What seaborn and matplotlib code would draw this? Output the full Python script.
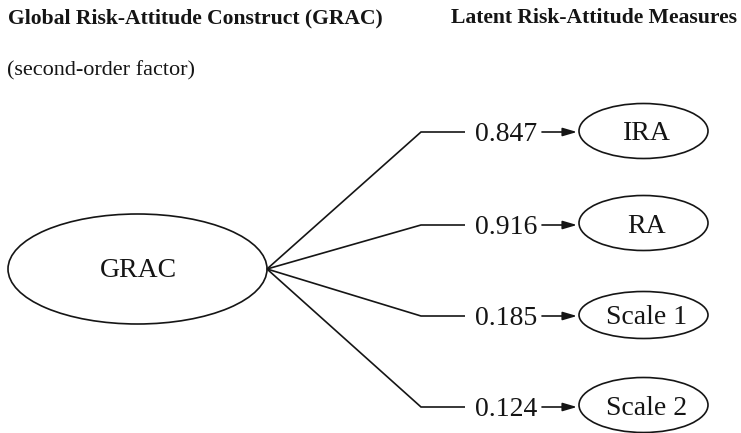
import matplotlib
matplotlib.use("Agg")
import matplotlib.pyplot as plt
from matplotlib.patches import Ellipse
import seaborn as sns

# ---- data ----
construct = "GRAC"
title_left = "Global Risk-Attitude Construct (GRAC)"
subtitle_left = "(second-order factor)"
title_right = "Latent Risk-Attitude Measures"
measures = ["IRA", "RA", "Scale 1", "Scale 2"]
loadings = [0.847, 0.916, 0.185, 0.124]

# ---- style ----
sns.set_theme(style="white")
plt.rcParams["font.family"] = ["Liberation Serif", "DejaVu Serif"]

W, H = 741, 433
fig = plt.figure(figsize=(W / 100, H / 100), dpi=100)
ax = fig.add_axes([0, 0, 1, 1])
ax.set_xlim(0, W)
ax.set_ylim(H, 0)
ax.axis("off")

ink = "#151515"
lw = 1.2

# ---- layout ----
row_y = [132, 225, 316, 407]
node_cy = [131, 223, 315, 405]
node_h = [55, 55, 47, 55]
node_cx, node_w = 643.5, 129
text_cx = 646.5
grac_cx, grac_cy, grac_w, grac_h = 137.5, 269, 259, 110
tip_x = grac_cx + grac_w / 2
bend_x, seg_end, num_cx, arr_start, arr_end = 421, 465, 506, 542, 577

# headers
ax.text(8, 23, title_left, fontsize=15.6, fontweight="bold", ha="left",
        va="baseline", color=ink)
ax.text(737, 23, title_right, fontsize=15.6, fontweight="bold", ha="right",
        va="baseline", color=ink)
ax.text(7, 75, subtitle_left, fontsize=16, ha="left", va="baseline", color=ink)

# second-order factor
ax.add_patch(Ellipse((grac_cx, grac_cy), grac_w, grac_h, fill=False,
                     ec=ink, lw=lw))
ax.text(138.5, 277, construct, fontsize=20, ha="center", va="baseline",
        color=ink)

# paths to measures
for name, val, y, cy, h in zip(measures, loadings, row_y, node_cy, node_h):
    ax.plot([tip_x, bend_x, seg_end], [grac_cy, y, y], color=ink, lw=lw,
            solid_joinstyle="miter", solid_capstyle="butt")
    ax.text(num_cx, y + 9, f"{val:.3f}", fontsize=20, ha="center",
            va="baseline", color=ink)
    ax.annotate("", xy=(arr_end, y), xytext=(arr_start, y),
                arrowprops=dict(arrowstyle="-|>,head_length=0.85,head_width=0.25",
                                color=ink, lw=lw, shrinkA=0, shrinkB=0,
                                mutation_scale=10))
    ax.add_patch(Ellipse((node_cx, cy), node_w, h, fill=False, ec=ink, lw=lw))
    ax.text(text_cx, y + 8, name, fontsize=20, ha="center", va="baseline",
            color=ink)

fig.savefig("out.png", dpi=100, facecolor="white")
